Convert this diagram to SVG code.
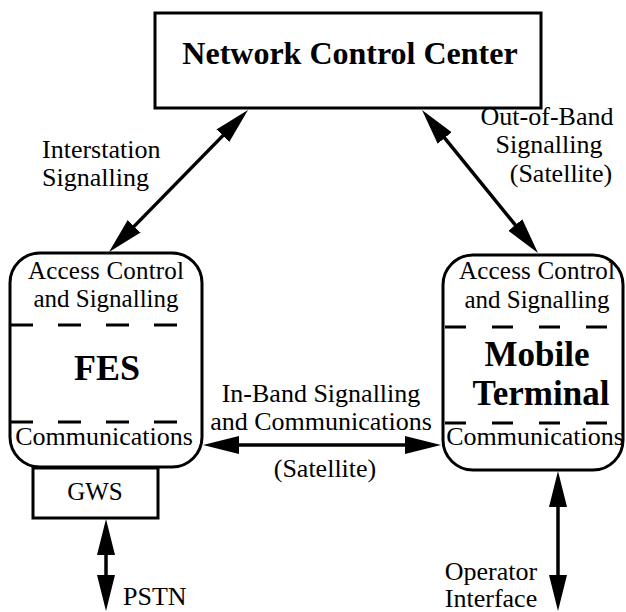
<svg xmlns="http://www.w3.org/2000/svg" width="626" height="612" viewBox="0 0 626 612">
<style>
.box{fill:#fff;stroke:#000;stroke-width:3}
.dash{stroke:#000;stroke-width:3;fill:none}
.t{font-family:"Liberation Serif","Times New Roman",serif;fill:#000}
.b{font-weight:bold}
.c{text-anchor:middle}
.lbl{font-size:26px}
.acc{font-size:25px}
.con{stroke:#000;stroke-width:3.5;fill:none;marker-start:url(#ah);marker-end:url(#ah)}
</style>
<defs>
<marker id="ah" markerUnits="userSpaceOnUse" markerWidth="36" markerHeight="20" viewBox="0 -10 36 20" refX="26" refY="0" orient="auto-start-reverse">
<path d="M0,-9 L36,0 L0,9 z" fill="#000"/>
</marker>
</defs>
<rect width="626" height="612" fill="#fff"/>
<g id="connectors">
<line class="con" x1="241" y1="117.1" x2="116" y2="244.9"/>
<line class="con" x1="428.3" y1="117.8" x2="531.7" y2="245.2"/>
<line class="con" x1="213" y1="445" x2="431" y2="445"/>
<line class="con" x1="106" y1="529" x2="106" y2="601"/>
<line class="con" x1="558" y1="481" x2="558" y2="601"/>
<text class="t lbl" x="42" y="158">Interstation</text>
<text class="t lbl" x="42" y="186">Signalling</text>
<text class="t lbl c" x="547" y="125">Out-of-Band</text>
<text class="t lbl c" x="549" y="153">Signalling</text>
<text class="t lbl c" x="561" y="182">(Satellite)</text>
<text class="t lbl c" x="321" y="402">In-Band Signalling</text>
<text class="t lbl c" x="321" y="430">and Communications</text>
<text class="t lbl c" x="325" y="477">(Satellite)</text>
<text class="t lbl" x="123" y="605">PSTN</text>
<text class="t lbl c" x="491" y="580">Operator</text>
<text class="t lbl c" x="491" y="607">Interface</text>
</g>
<g id="ncc">
<rect class="box" x="155" y="13" width="386" height="95"/>
<text class="t b c" x="350" y="64" font-size="32">Network Control Center</text>
</g>
<g id="fes">
<rect class="box" x="10" y="253" width="192" height="214" rx="30" ry="30"/>
<line class="dash" x1="10" y1="325" x2="202" y2="325" stroke-dasharray="23 25"/>
<line class="dash" x1="10" y1="422" x2="202" y2="422" stroke-dasharray="23 25"/>
<text class="t acc c" x="106" y="279" textLength="156">Access Control</text>
<text class="t acc c" x="106" y="307">and Signalling</text>
<text class="t b c" x="107" y="380" font-size="36">FES</text>
<text class="t lbl c" x="104" y="445">Communications</text>
</g>
<g id="gws">
<rect class="box" x="33" y="468" width="125" height="50"/>
<text class="t c" x="95" y="500" font-size="25">GWS</text>
</g>
<g id="mobile">
<rect class="box" x="443" y="255" width="180" height="215" rx="30" ry="30"/>
<line class="dash" x1="445" y1="327" x2="623" y2="327" stroke-dasharray="21 26"/>
<line class="dash" x1="445" y1="423" x2="623" y2="423" stroke-dasharray="21 26"/>
<text class="t acc c" x="537" y="279" textLength="156">Access Control</text>
<text class="t acc c" x="537" y="308">and Signalling</text>
<text class="t b c" x="537" y="366" font-size="35">Mobile</text>
<text class="t b c" x="541" y="405" font-size="35">Terminal</text>
<text class="t lbl c" x="535" y="445">Communications</text>
</g>
</svg>
